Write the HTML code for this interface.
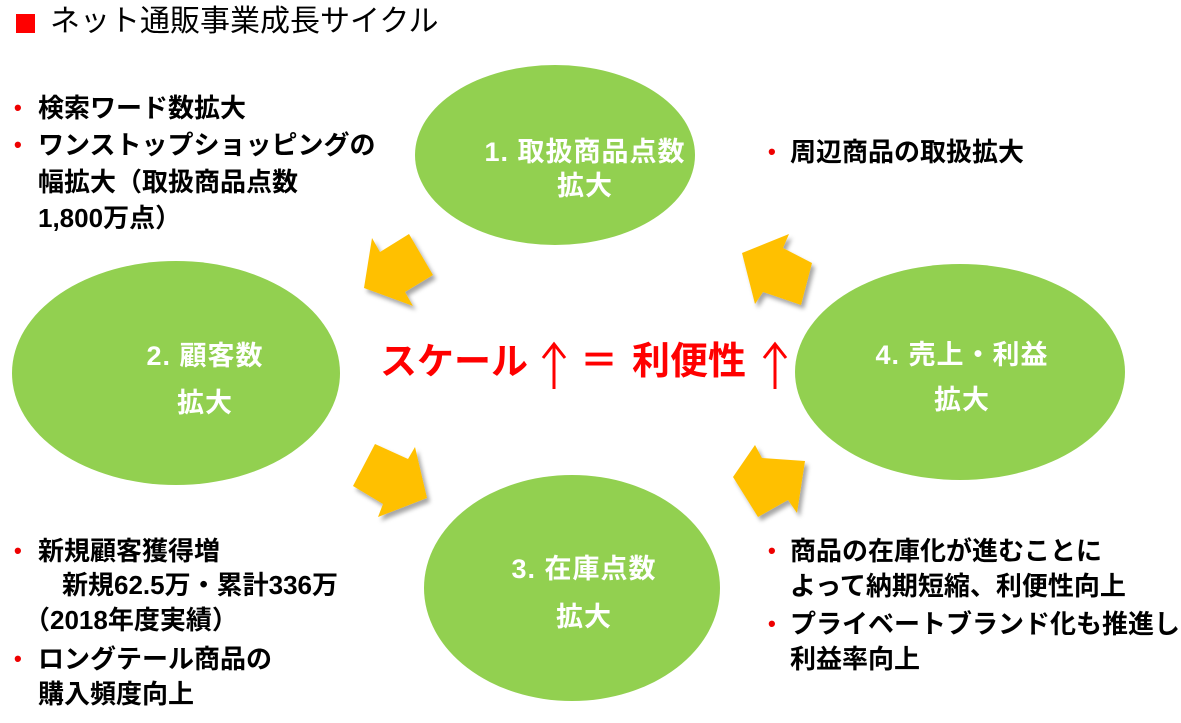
<!DOCTYPE html>
<html><head><meta charset="utf-8"><style>
body{margin:0;width:1181px;height:723px;background:#fff;position:relative;overflow:hidden;font-family:"Liberation Sans","Noto Sans CJK JP",sans-serif}
.t{position:absolute;white-space:nowrap;font-size:26px;font-weight:bold;line-height:34px;color:#000}
.b{position:absolute;color:#e00;font-size:22px;font-weight:bold;line-height:34px}
.w{position:absolute;white-space:nowrap;color:#fff;font-weight:bold;font-size:27px;letter-spacing:1px;line-height:34px;text-align:center;transform:translateX(-50%)}
.r{position:absolute;white-space:nowrap;font-size:38px;font-weight:bold;line-height:42px;color:#f00;top:341px}
</style></head><body>
<svg width="1181" height="723" style="position:absolute;left:0;top:0">
<defs><filter id="s" x="-20%" y="-20%" width="150%" height="150%"><feDropShadow dx="3" dy="4" stdDeviation="2" flood-color="#000" flood-opacity="0.35"/></filter></defs>
<rect x="16" y="14" width="19" height="19" fill="#f00"/>
<ellipse cx="555" cy="155" rx="140" ry="90" fill="#92d050"/>
<ellipse cx="176" cy="373" rx="164" ry="112" fill="#92d050"/>
<ellipse cx="572" cy="588" rx="148" ry="113" fill="#92d050"/>
<ellipse cx="960" cy="372" rx="165" ry="108" fill="#92d050"/>
<g fill="#ffc000" filter="url(#s)">
<polygon points="372,238 380,252 409,234 433,275 405,292 413,306 364,288"/>
<polygon points="789,234 783,248 812,263 801,305 763,292 755,304 742,253"/>
<polygon points="375,444 408,459 415,447 427,498 378,517 383,504 353,486"/>
<polygon points="755,445 762,458 805,461 797,513 788,500 758,517 733,477"/>
</g>
<g stroke="#f00" stroke-width="3" fill="none">
<path d="M554,389 V345 M543,358 L554,344 L565,358"/>
<path d="M775,389 V345 M764,358 L775,344 L786,358"/>
</g>
</svg>
<div class="t" style="left:50px;top:5px;font-size:30px;font-weight:normal">ネット通販事業成長サイクル</div>

<div class="b" style="left:14px;top:91px">•</div><div class="t" style="left:38px;top:91px">検索ワード数拡大</div>
<div class="b" style="left:14px;top:128px">•</div><div class="t" style="left:38px;top:128px">ワンストップショッピングの</div>
<div class="t" style="left:38px;top:165px">幅拡大（取扱商品点数</div>
<div class="t" style="left:38px;top:201px">1,800万点）</div>

<div class="b" style="left:768px;top:135px">•</div><div class="t" style="left:790px;top:135px">周辺商品の取扱拡大</div>

<div class="b" style="left:14px;top:534px">•</div><div class="t" style="left:38px;top:534px">新規顧客獲得増</div>
<div class="t" style="left:62px;top:568px">新規62.5万・累計336万</div>
<div class="t" style="left:24px;top:603px">（2018年度実績）</div>
<div class="b" style="left:14px;top:642px">•</div><div class="t" style="left:38px;top:642px">ロングテール商品の</div>
<div class="t" style="left:38px;top:677px">購入頻度向上</div>

<div class="b" style="left:768px;top:534px">•</div><div class="t" style="left:790px;top:534px">商品の在庫化が進むことに</div>
<div class="t" style="left:790px;top:569px">よって納期短縮、利便性向上</div>
<div class="b" style="left:768px;top:607px">•</div><div class="t" style="left:790px;top:607px">プライベートブランド化も推進し</div>
<div class="t" style="left:790px;top:642px">利益率向上</div>

<div class="w" style="left:585px;top:135px">1. 取扱商品点数<br>拡大</div>
<div class="w" style="left:205px;top:333px;line-height:47px">2. 顧客数<br>拡大</div>
<div class="w" style="left:584px;top:545px;line-height:48px">3. 在庫点数<br>拡大</div>
<div class="w" style="left:962px;top:333px;line-height:45px">4. 売上・利益<br>拡大</div>

<div class="r" style="left:380px;font-size:37px">スケール</div>
<div class="r" style="left:580px">＝</div>
<div class="r" style="left:632px">利便性</div>
</body></html>
